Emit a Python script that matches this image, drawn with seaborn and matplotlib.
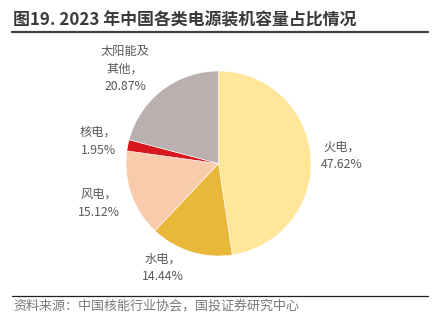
import matplotlib
matplotlib.use("Agg")
import matplotlib.pyplot as plt
import seaborn as sns
from matplotlib.lines import Line2D

categories = ["火电", "水电", "风电", "核电", "太阳能及其他"]
shares = [47.62, 14.44, 15.12, 1.95, 20.87]
label_texts = ["火电，\n47.62%", "水电，\n14.44%", "风电，\n15.12%", "核电，\n1.95%", "太阳能及\n其他，\n20.87%"]
colors = ["#FFE699", "#E9B83B", "#F8CBAD", "#D7161E", "#BAB0AF"]

title = "图19. 2023 年中国各类电源装机容量占比情况"
source = "资料来源：中国核能行业协会，国投证券研究中心"

sns.set_theme(style="white")
plt.rcParams['font.family'] = ['Noto Sans CJK SC', 'DejaVu Sans']

W, H = 433, 327
fig = plt.figure(figsize=(W / 100, H / 100), dpi=100)
fig.patch.set_facecolor("white")

# pie axes (pixel box 126..311 x 71..256)
cx, cy, R = 218.5, 163.5, 92.5
ax = fig.add_axes([(cx - R) / W, (H - cy - R) / H, 2 * R / W, 2 * R / H])
wedges, _ = ax.pie(shares, colors=colors, startangle=90, counterclock=False,
                   wedgeprops=dict(edgecolor="white", linewidth=0.4))
ax.set_xlim(-1, 1)
ax.set_ylim(-1, 1)
ax.set_aspect("equal")
ax.axis("off")

# label placement (axes data units)
label_pos = [(1.335, 0.08), (-0.60, -1.13), (-1.29, -0.43), (-1.30, 0.24), (-1.01, 1.02)]
for txt, (lx, ly) in zip(label_texts, label_pos):
    ax.text(lx, ly, txt, ha="center", va="center", fontsize=8.8, color="#595959",
            linespacing=1.45, clip_on=False, fontweight="light")

# title and underline
fig.text(13 / W, 1 - 20 / H, title, ha="left", va="center", fontsize=12.2,
         fontweight="bold", color="#3a3a3a")
fig.add_artist(Line2D([12 / W, 428 / W], [1 - 32 / H, 1 - 32 / H], color="#404040",
                      linewidth=1.6, transform=fig.transFigure))

# footer line and source
fig.add_artist(Line2D([12 / W, 428 / W], [1 - 296 / H, 1 - 296 / H], color="#202020",
                      linewidth=0.9, transform=fig.transFigure))
fig.text(13 / W, 1 - 306 / H, source, ha="left", va="center", fontsize=9.4,
         color="#7a7a7a", style="italic", fontweight="light")

fig.savefig("out.png", dpi=100, facecolor="white")
